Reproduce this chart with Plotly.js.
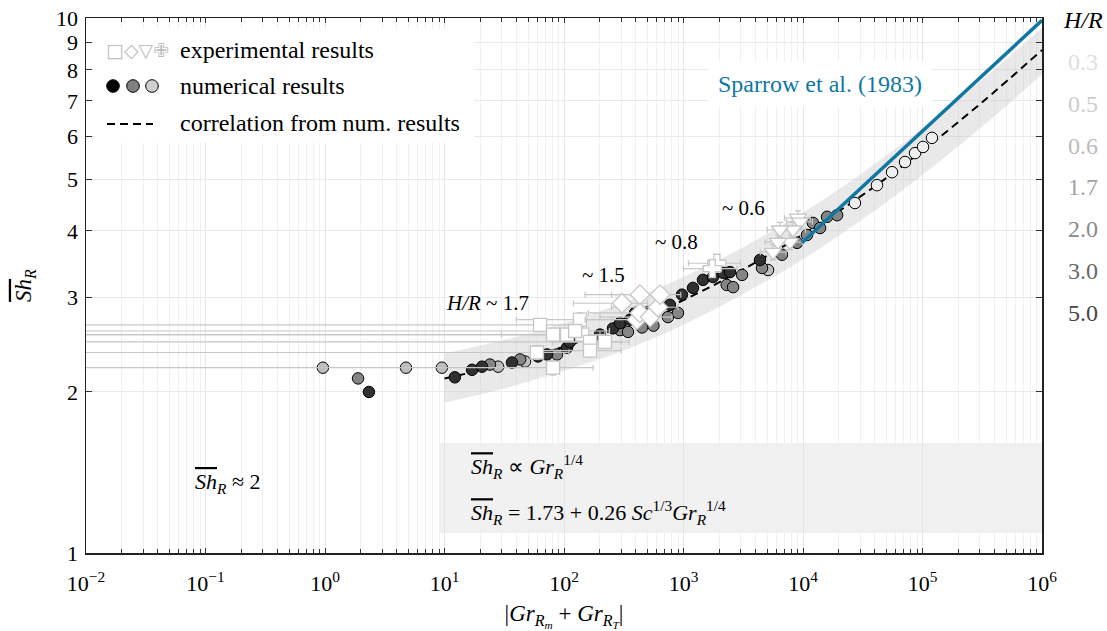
<!DOCTYPE html>
<html><head><meta charset="utf-8">
<script src="https://cdn.plot.ly/plotly-3.0.1.min.js"></script>
<style>html,body{margin:0;padding:0;background:#fff}</style>
</head><body><div id="chart" style="width:1107px;height:631px"></div>
<script>
// ---------- data ----------
// correlation from numerical results (dashed curve) and its grey band
const corrX   = [10, 31.6, 100, 316, 1000, 3160, 10000, 31600, 100000, 316000, 1000000];
const corrY   = [2.12, 2.25, 2.43, 2.66, 2.97, 3.39, 3.94, 4.67, 5.65, 6.96, 8.71];
const bandHi  = [2.36, 2.50, 2.69, 2.94, 3.28, 3.73, 4.33, 5.14, 6.22, 7.66, 9.58];
const bandLo  = [1.91, 2.03, 2.19, 2.39, 2.67, 3.05, 3.54, 4.21, 5.09, 6.27, 7.84];
// Sparrow et al. (1983)
const sparX = [9800, 1000000];
const sparY = [3.80, 9.90];
// numerical results, grouped by H/R shade
const numDarkX  = [2.33, 12.2, 17, 20.6, 36.7, 60.6, 72.1, 106, 112, 200, 257, 294, 357, 393, 505, 770, 971, 1200, 1455, 1765, 2140, 2450, 4365];
const numDarkY  = [2.00, 2.13, 2.20, 2.23, 2.27, 2.33, 2.35, 2.42, 2.48, 2.56, 2.63, 2.69, 2.73, 2.81, 2.82, 2.91, 3.04, 3.13, 3.24, 3.28, 3.34, 3.35, 3.53];
const numMidX   = [1.89, 24, 42.9, 87.4, 294, 343, 450, 560, 741, 899, 2300, 2600, 3090, 4540, 6670, 8910, 10800, 12100, 13900, 15900, 19300];
const numMidY   = [2.12, 2.25, 2.30, 2.35, 2.61, 2.59, 2.64, 2.66, 2.76, 2.81, 3.17, 3.14, 3.31, 3.41, 3.61, 3.80, 3.93, 4.14, 4.05, 4.25, 4.28];
const numLightX = [0.96, 4.76, 9.5, 28.1, 47.2, 5100];
const numLightY = [2.22, 2.22, 2.22, 2.23, 2.28, 3.38];
const numWhiteX = [27200, 41600, 55600, 71400, 86600, 101000, 120000];
const numWhiteY = [4.51, 4.87, 5.15, 5.38, 5.59, 5.74, 5.97];
// experimental results: value, lower / upper bound in Gr, lower / upper bound in Sh
const sqX   = [59.4, 63, 81, 81, 106, 136, 142, 165, 165, 220, 124];
const sqY   = [2.37, 2.67, 2.56, 2.22, 2.56, 2.73, 2.56, 2.48, 2.39, 2.48, 2.60];
const sqXlo = [0.005, 0.005, 0.005, 0.005, 30, 40, 0.005, 0.005, 60, 80, 0.005];
const sqXhi = [110, 120, 150, 175, 200, 250, 220, 300, 300, 350, 240];
const sqYlo = [2.30, 2.60, 2.49, 2.15, 2.49, 2.65, 2.49, 2.41, 2.32, 2.41, 2.53];
const sqYhi = [2.44, 2.74, 2.63, 2.29, 2.63, 2.81, 2.63, 2.55, 2.46, 2.55, 2.67];
const diX   = [306, 432, 408, 432, 525, 612, 636];
const diY   = [2.93, 3.04, 2.73, 2.81, 2.76, 2.88, 3.04];
const diXlo = [120, 150, 150, 160, 200, 250, 250];
const diXhi = [500, 650, 600, 650, 800, 900, 950];
const crX   = [1905, 1740];
const crY   = [3.48, 3.40];
const crXlo = [1100, 1000];
const crXhi = [3000, 2800];
const trX   = [9080, 9440, 8240, 6420, 7780, 6180, 5610];
const trY   = [4.23, 4.16, 4.02, 4.02, 3.81, 3.81, 3.65];
const trXlo = [7000, 7300, 6400, 5000, 6000, 4800, 4400];
const trXhi = [11500, 12000, 10500, 8200, 9900, 7900, 7200];
const trYlo = [4.10, 4.03, 3.89, 3.89, 3.69, 3.69, 3.53];
const trYhi = [4.36, 4.29, 4.15, 4.15, 3.93, 3.93, 3.77];
// axis ticks
const xTickVals = [0.01, 0.1, 1, 10, 100, 1000, 10000, 100000, 1000000];
const xTickText = ['10<sup>−2</sup>','10<sup>−1</sup>','10<sup>0</sup>','10<sup>1</sup>','10<sup>2</sup>','10<sup>3</sup>','10<sup>4</sup>','10<sup>5</sup>','10<sup>6</sup>'];
const yTickVals = [1,2,3,4,5,6,7,8,9,10];
const yTickText = ['1','2','3','4','5','6','7','8','9','10'];
// H/R colour key
const hrLabels = ['0.3','0.5','0.6','1.7','2.0','3.0','5.0'];
const hrColors = ['#dedede','#cccccc','#bababa','#a3a3a3','#8a8a8a','#686868','#474747'];

// ---------- helpers ----------
const L=86, R=1042, T=18, B=553;
const PX = p => (p-L)/(R-L);
const PY = p => (B-p)/(B-T);
const diff = (a,b) => a.map((v,i)=>v-b[i]);
const F = 'Liberation Serif, Times New Roman, serif';
const expCol = '#c6c6c6';
const OL = '<span style="text-decoration:overline"><i>Sh</i></span><sub><i>R</i></sub>';

const numTrace = (x,y,fill) => ({x, y, type:'scatter', mode:'markers', showlegend:false, hoverinfo:'skip',
  marker:{size:11.5, color:fill, line:{color:'#000', width:1}}});
const expTrace = (x,y,xlo,xhi,sym,size,ylo,yhi) => {
  const t = {x, y, type:'scatter', mode:'markers', showlegend:false, hoverinfo:'skip',
    marker:{symbol:sym, size:size, color:'#ffffff', line:{color:expCol, width:1.3}},
    error_x:{type:'data', symmetric:false, array:diff(xhi,x), arrayminus:diff(x,xlo), color:expCol, thickness:1.2, width:3}};
  if (ylo) t.error_y = {type:'data', symmetric:false, array:diff(yhi,y), arrayminus:diff(y,ylo), color:expCol, thickness:1.2, width:3};
  return t;
};

const data = [
  {x:corrX, y:bandLo, type:'scatter', mode:'lines', line:{width:0, shape:'spline'}, showlegend:false, hoverinfo:'skip'},
  {x:corrX, y:bandHi, type:'scatter', mode:'lines', line:{width:0, shape:'spline'}, fill:'tonexty', fillcolor:'rgba(200,200,200,0.4)', showlegend:false, hoverinfo:'skip'},
  {x:corrX, y:corrY, type:'scatter', mode:'lines', line:{color:'#000', width:2, dash:'8px,5px', shape:'spline'}, showlegend:false, hoverinfo:'skip'},
  numTrace(numLightX, numLightY, '#bdbdbd'),
  numTrace(numMidX, numMidY, '#858585'),
  numTrace(numDarkX, numDarkY, '#303030'),
  numTrace(numWhiteX, numWhiteY, '#efefef'),
  expTrace(sqX, sqY, sqXlo, sqXhi, 'square', 13, sqYlo, sqYhi),
  expTrace(diX, diY, diXlo, diXhi, 'diamond', 15),
  expTrace(crX, crY, crXlo, crXhi, 'cross', 15),
  expTrace(trX, trY, trXlo, trXhi, 'triangle-down', 15, trYlo, trYhi),
  {x:sparX, y:sparY, type:'scatter', mode:'lines', line:{color:'#0f78a2', width:3.5}, showlegend:false, hoverinfo:'skip'}
];

const minorX = [];
for (let e=-2; e<6; e++) for (let k=2; k<10; k++) minorX.push(k*Math.pow(10,e));

const ann = [];
const A = (x,y,text,opt) => ann.push(Object.assign({xref:'paper', yref:'paper', x:PX(x), y:PY(y), text, showarrow:false,
  xanchor:'center', yanchor:'middle', font:{family:F, size:21, color:'#000'}}, opt||{}));

A(820, 84, 'Sparrow et al. (1983)', {font:{family:F, size:24, color:'#0f78a2'}, bgcolor:'#ffffff', borderpad:9});
A(1083, 20, '<i>H/R</i>', {font:{family:F, size:24, color:'#000'}});
hrLabels.forEach((t,i)=> A(1083, 62+i*41.8, t, {font:{family:F, size:24, color:hrColors[i]}}));
A(487, 303, '<i>H/R</i> ~ 1.7');
A(603, 275, '~ 1.5');
A(676, 242, '~ 0.8');
A(743, 208, '~ 0.6');
// legend
A(178, 50, 'experimental results', {xanchor:'left', font:{family:F, size:24, color:'#000'}});
A(178, 86, 'numerical results', {xanchor:'left', font:{family:F, size:24, color:'#000'}});
A(178, 123, 'correlation from num. results', {xanchor:'left', font:{family:F, size:24, color:'#000'}});
A(104, 50, '□◇▽✙', {xanchor:'left', font:{family:'DejaVu Sans', size:19, color:'#bdbdbd'}});
// formula box
A(469, 466, OL + ' ∝ <i>Gr</i><sub><i>R</i></sub><sup>1/4</sup>', {xanchor:'left', font:{family:F, size:22, color:'#000'}});
A(469, 512, OL + ' = 1.73 + 0.26 <i>Sc</i><sup>1/3</sup><i>Gr</i><sub><i>R</i></sub><sup>1/4</sup>', {xanchor:'left', font:{family:F, size:22, color:'#000'}});
A(193, 483, OL + ' ≈ 2', {xanchor:'left', font:{family:F, size:22, color:'#000'}});

const shapes = [
  {type:'rect', xref:'paper', yref:'paper', x0:PX(439), x1:1, y0:PY(533), y1:PY(443), fillcolor:'rgba(200,200,200,0.25)', line:{width:0}, layer:'below'},
  {type:'rect', xref:'paper', yref:'paper', x0:PX(95), x1:PX(474), y0:PY(143), y1:PY(29), fillcolor:'#ffffff', line:{width:0}, layer:'above'},
  {type:'line', xref:'paper', yref:'paper', x0:PX(107), x1:PX(153), y0:PY(124), y1:PY(124), line:{color:'#000', width:2, dash:'8px,5px'}, layer:'above'}
];
const circ = (cx,cy,r,fill) => shapes.push({type:'circle', xref:'paper', yref:'paper', x0:PX(cx-r), x1:PX(cx+r), y0:PY(cy+r), y1:PY(cy-r), fillcolor:fill, line:{color:'#000', width:1}, layer:'above'});
circ(113, 86, 6.3, '#000000');
circ(133, 86, 6.3, '#808080');
circ(152, 86, 6.3, '#d0d0d0');

const layout = {
  width:1107, height:631,
  margin:{l:L, r:1107-R, t:T, b:631-B},
  paper_bgcolor:'#ffffff', plot_bgcolor:'#ffffff',
  showlegend:false,
  font:{family:F, color:'#000'},
  xaxis:{type:'log', range:[-2,6], tickmode:'array', tickvals:xTickVals, ticktext:xTickText,
    ticks:'inside', ticklen:5, tickcolor:'#333', showline:true, linecolor:'#222', linewidth:1.5, mirror:'ticks',
    showgrid:true, gridcolor:'#e6e6e6', gridwidth:1, zeroline:false, ticklabelstandoff:10,
    minor:{tickmode:'array', tickvals:minorX, ticks:'inside', ticklen:4, tickcolor:'#333', showgrid:true, gridcolor:'#f0f0f0'},
    tickfont:{family:F, size:22, color:'#000'},
    title:{text:'|<i>Gr</i><sub><i>R</i><sub><i>m</i></sub></sub> + <i>Gr</i><sub><i>R</i><sub><i>T</i></sub></sub>|', font:{family:F, size:23, color:'#000'}, standoff:14}},
  yaxis:{type:'log', range:[0,1], tickmode:'array', tickvals:yTickVals, ticktext:yTickText,
    ticks:'inside', ticklen:6, tickcolor:'#333', showline:true, linecolor:'#222', linewidth:1.5, mirror:'ticks',
    showgrid:true, gridcolor:'#e9e9e9', zeroline:false, ticklabelstandoff:2,
    tickfont:{family:F, size:22, color:'#000'},
    title:{text:OL, font:{family:F, size:23, color:'#000'}, standoff:18}},
  annotations:ann,
  shapes:shapes
};

Plotly.newPlot('chart', data, layout, {staticPlot:true, displayModeBar:false});
</script></body></html>
